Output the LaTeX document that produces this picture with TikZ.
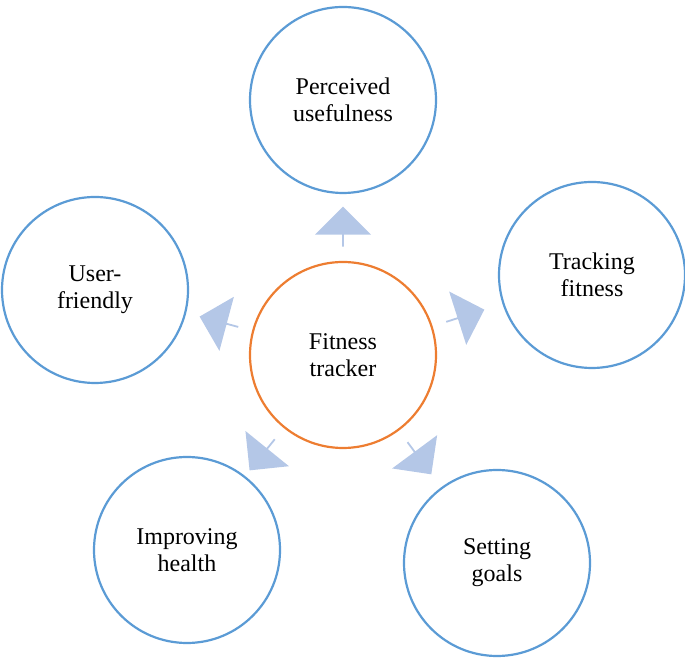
\documentclass[tikz,border=0pt]{standalone}
\usepackage{fontspec}
\setmainfont{Liberation Serif}
\usetikzlibrary{shapes.arrows,calc}
\definecolor{ringblue}{HTML}{5B9BD5}
\definecolor{ringorange}{HTML}{ED7D31}
\definecolor{arrowfill}{HTML}{B4C7E7}
\begin{document}
\begin{tikzpicture}[x=1pt,y=1pt,
  ring/.style={circle,draw=ringblue,line width=2.2pt,minimum size=186pt,inner sep=0pt,align=center,font=\fontsize{24}{27}\selectfont},
  blockarrow/.style={single arrow,fill=arrowfill,draw=none,minimum height=40pt,minimum width=56pt,single arrow head extend=6pt,inner sep=0pt}]
\useasboundingbox (0,0) rectangle (685,660);
\node[ring,draw=ringorange] (c) at (343,305) {Fitness\\tracker};
\node[ring] (t) at (343,560) {Perceived\\usefulness};
\node[ring] (r) at (592,385) {Tracking\\fitness};
\node[ring] (l) at (95,370) {User-\\friendly};
\node[ring] (bl) at (187,110) {Improving\\health};
\node[ring] (br) at (497,97) {Setting\\goals};
\foreach \a/\n in {90/at,17.8/ar,165/al,231/abl,306.5/abr}
  \node[blockarrow,rotate=\a] (\n) at ($(c)+(\a:128)$) {};
\end{tikzpicture}
\end{document}
